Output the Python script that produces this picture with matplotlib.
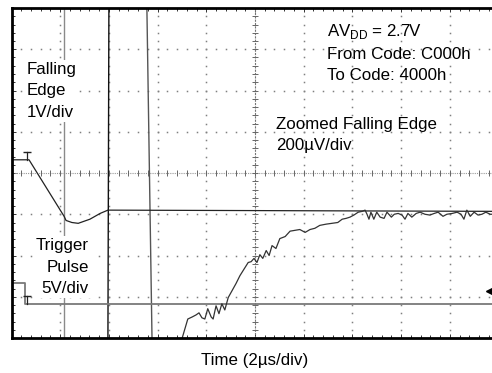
import numpy as np
from matplotlib import pyplot as plt

plt.rcParams['font.family'] = ['Liberation Sans', 'DejaVu Sans']
plt.rcParams['mathtext.fontset'] = 'custom'
plt.rcParams['mathtext.rm'] = 'Liberation Sans'

# scope screen, all values in divisions (x: 2us/div, 10 div; y: 8 div, centre = 0)
fall_x = [0.0, 0.36, 1.08, 1.12, 1.24, 1.37, 1.61, 1.82, 1.98, 10.0]
fall_y = [0.32, 0.32, -1.05, -1.15, -1.20, -1.22, -1.12, -0.98, -0.90, -0.93]

trig_x = [0.0, 0.28, 0.28, 10.0]
trig_y = [-2.66, -2.66, -3.18, -3.18]

# zoomed falling edge (200uV/div), runs off screen at the start
zoom_x = [3.50, 3.62, 3.71, 3.79, 3.85, 3.91, 3.97, 4.03, 4.10, 4.14,
          4.20, 4.26, 4.32, 4.38, 4.45, 4.53, 4.61, 4.69, 4.78, 4.86,
          4.92, 4.98, 5.04, 5.10, 5.16, 5.23, 5.29, 5.35, 5.43, 5.51,
          5.62, 5.72, 5.82, 5.92, 6.03, 6.13, 6.23, 6.33, 6.46, 6.58,
          6.70, 6.79, 6.87, 6.95, 7.03, 7.12, 7.20, 7.26, 7.30, 7.34,
          7.38, 7.44, 7.50, 7.57, 7.65, 7.71, 7.80, 7.86, 7.94, 8.02,
          8.08, 8.14, 8.22, 8.31, 8.39, 8.49, 8.59, 8.68, 8.76, 8.86,
          8.94, 9.05, 9.15, 9.23, 9.29, 9.35, 9.42, 9.50, 9.58, 9.66,
          9.74, 9.83, 9.91]
zoom_y = [-4.02, -3.54, -3.49, -3.44, -3.39, -3.51, -3.54, -3.29, -3.49, -3.54,
          -3.22, -3.41, -3.17, -3.32, -3.02, -2.85, -2.68, -2.49, -2.32, -2.17,
          -2.15, -2.07, -2.17, -1.98, -2.07, -1.88, -2.00, -1.76, -1.83, -1.59,
          -1.54, -1.41, -1.39, -1.37, -1.44, -1.37, -1.34, -1.27, -1.24, -1.22,
          -1.20, -1.12, -1.10, -1.07, -1.02, -0.95, -0.93, -0.90, -1.00, -1.12,
          -0.95, -1.12, -0.95, -1.07, -1.10, -0.95, -1.07, -1.00, -0.98, -1.02,
          -1.12, -0.98, -1.07, -0.98, -0.95, -1.00, -1.02, -0.98, -0.95, -1.05,
          -1.00, -0.98, -0.95, -1.00, -1.12, -0.90, -1.05, -0.95, -1.02, -1.00,
          -0.95, -1.00, -1.00]

# off-scale parts of the zoomed trace show up as near vertical lines
steep_x = [[1.08, 1.08], [2.00, 1.98], [2.78, 2.885]]
steep_y = [[-4.0, 4.0], [4.0, -4.0], [4.0, -4.0]]
steep_col = ['#8a8a8a', '#111111', '#555555']

marker_x = [0.32, 0.32]          # trigger "T" markers
marker_top = [0.51, -2.98]
marker_base = [0.32, -3.18]

FS = 12.2

fig = plt.figure(figsize=(4.92, 3.73), dpi=100)
ax = fig.add_axes([11.5 / 492, 35 / 373, 487 / 492, 330 / 373])
ax.set_xlim(0, 10)
ax.set_ylim(-4, 4)

# graticule: dotted division lines, ticked centre lines
sub = np.arange(0, 10.01, 0.2)
subv = np.arange(-4, 4.01, 0.2)
for k in range(1, 10):
    if k == 5:
        continue
    ax.plot(np.full_like(subv, k), subv, ls='none', marker='s', ms=1.1, color='#808080', mew=0)
for k in range(-3, 4):
    if k == 0:
        continue
    ax.plot(sub, np.full_like(sub, k), ls='none', marker='s', ms=1.1, color='#808080', mew=0)

ax.axhline(0, color='#999999', lw=0.8, ls=(0, (1, 1)))
ax.axvline(5, color='#777777', lw=0.8, ls=(0, (2, 1)))
ax.plot(sub, np.zeros_like(sub), ls='none', marker='|', ms=4, mew=0.7, color='#666666')
ax.plot(np.full_like(subv, 5), subv, ls='none', marker='_', ms=4, mew=0.7, color='#666666')

# traces
for xs, ys, c in zip(steep_x, steep_y, steep_col):
    ax.plot(xs, ys, color=c, lw=1.0)
ax.plot(fall_x, fall_y, color='#222222', lw=0.9)
ax.plot(trig_x, trig_y, color='#7a7a7a', lw=1.3)
ax.plot(zoom_x, zoom_y, color='#333333', lw=0.9)

for x, top, base in zip(marker_x, marker_top, marker_base):
    ax.plot([x, x], [base, top], color='#222222', lw=0.9)
    ax.plot([x], [top], marker='_', ms=6, mew=1.0, color='#222222')

ax.plot([9.85], [-2.85], marker='<', ms=7, color='black', clip_on=False)

# labels on the screen
box = dict(facecolor='white', edgecolor='none', pad=1.5)
ax.text(0.32, 2.70, 'Falling\nEdge\n1V/div', fontsize=FS, va='top', ha='left',
        linespacing=1.55, bbox=box, zorder=5)
ax.text(1.59, -1.58, 'Trigger\nPulse\n5V/div', fontsize=FS, va='top', ha='right',
        multialignment='right', linespacing=1.55, bbox=box, zorder=5)

ax.text(6.48, 3.44, r'AV$_{\mathrm{DD}}$ = 2.7V', fontsize=FS, va='center', ha='left')
ax.text(6.48, 2.88, 'From Code: C000h', fontsize=FS, va='center', ha='left')
ax.text(6.48, 2.37, 'To Code: 4000h', fontsize=FS, va='center', ha='left')
ax.text(5.43, 1.17, 'Zoomed Falling Edge', fontsize=FS, va='center', ha='left')
ax.text(5.43, 0.66, '200\u00b5V/div', fontsize=FS, va='center', ha='left')

ax.set_xlabel('Time (2\u00b5s/div)', fontsize=FS, labelpad=11)

# frame and border ticks
ax.set_xticks(range(0, 11))
ax.set_yticks(range(-4, 5))
ax.set_xticks(sub, minor=True)
ax.set_yticks(subv, minor=True)
ax.tick_params(which='both', direction='in', top=True, labelbottom=False, labelleft=False,
               color='#333333', width=0.7)
ax.tick_params(which='major', length=3)
ax.tick_params(which='minor', length=2)
for side in ['left', 'top', 'bottom', 'right']:
    ax.spines[side].set_linewidth(2.0)

fig.savefig('out.png', dpi=100)
